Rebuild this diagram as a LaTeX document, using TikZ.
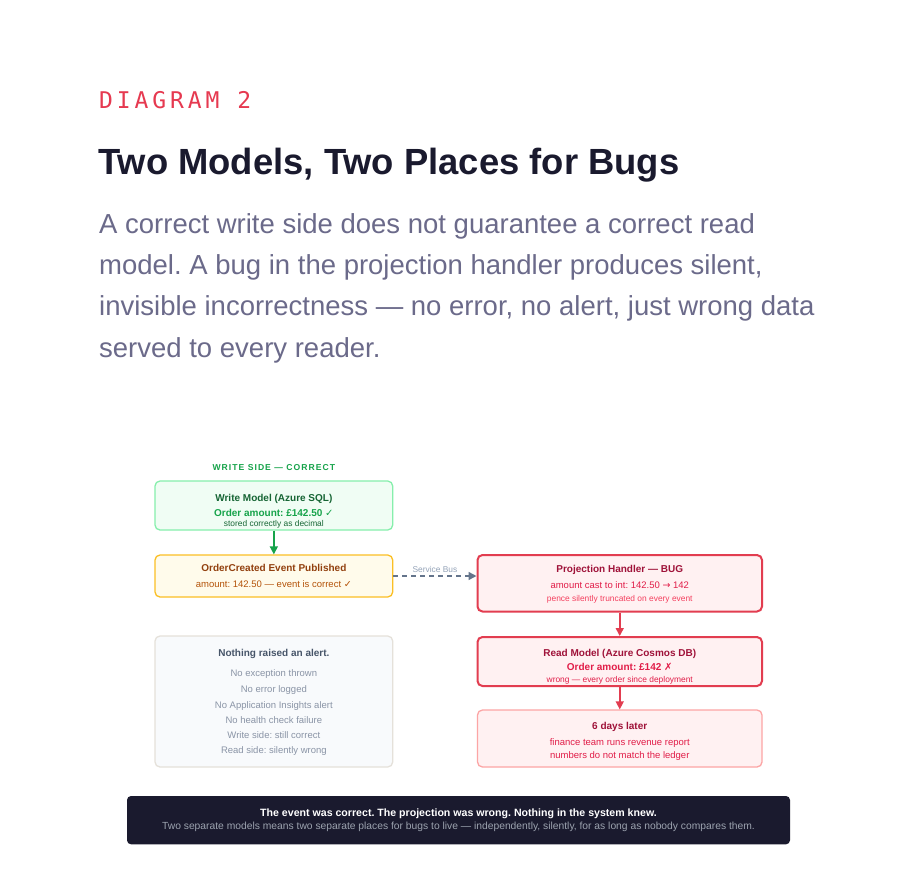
\documentclass[tikz,border=0pt]{standalone}
\usepackage{fontspec}
\setmainfont{Liberation Sans}
\newfontfamily\labelmono{DejaVu Sans Mono}[LetterSpace=17]
\newfontfamily\symfont{DejaVu Sans}
\usetikzlibrary{arrows.meta}
\newcommand\fsz[1]{\fontsize{#1}{#1}\selectfont}
\frenchspacing
\definecolor{ink}{HTML}{1A1A2E}
\definecolor{lede}{HTML}{6B6A8A}
\definecolor{accent}{HTML}{E63950}
\definecolor{okfill}{HTML}{F0FDF4}
\definecolor{okline}{HTML}{86EFAC}
\definecolor{okdark}{HTML}{166534}
\definecolor{okmid}{HTML}{16A34A}
\definecolor{evfill}{HTML}{FFFBEB}
\definecolor{evline}{HTML}{FBBF24}
\definecolor{evdark}{HTML}{92400E}
\definecolor{evmid}{HTML}{B45309}
\definecolor{bugfill}{HTML}{FFF1F2}
\definecolor{bugline}{HTML}{E23D50}
\definecolor{bugdark}{HTML}{9F1239}
\definecolor{bugmid}{HTML}{E11D48}
\definecolor{buglight}{HTML}{F43F5E}
\definecolor{laterline}{HTML}{FCA5A5}
\definecolor{quietfill}{HTML}{F8FAFC}
\definecolor{quietline}{HTML}{E5E1DA}
\definecolor{quietdark}{HTML}{475569}
\definecolor{quietmid}{HTML}{8A94A6}
\definecolor{busline}{HTML}{64748B}
\definecolor{buslabel}{HTML}{94A3B8}
\definecolor{footgray}{HTML}{9CA3AF}

\begin{document}
\begin{tikzpicture}[x=1pt,y=-1pt,
    box/.style={draw, rounded corners=5pt, line width=1.3pt, inner sep=0pt, minimum width=237.7pt},
    bugbox/.style={box, fill=bugfill, draw=bugline, line width=2pt, minimum width=284.5pt},
    txt/.style={anchor=base, inner sep=0pt},
    ttl/.style={txt, font=\bfseries\fsz{10}},
    sub/.style={txt, font=\fsz{9.5}},
    tiny/.style={txt, font=\fsz{8.4}},
    tip/.style={-{Triangle[length=8pt,width=8pt]}, line width=1.5pt}]
  \useasboundingbox[fill=white] (0,0) rectangle (898,879);
  % heading
  \node[txt, anchor=base west, text=accent, font=\labelmono\fsz{23}] (kicker) at (99,108) {DIAGRAM 2};
  \node[txt, anchor=base west, text=ink, font=\bfseries\fsz{36.4}] (title) at (98,174) {Two Models, Two Places for Bugs};
  \node[txt, anchor=base west, text=lede, font=\fsz{27.5}] (lede1) at (99,233) {A correct write side does not guarantee a correct read};
  \node[txt, anchor=base west, text=lede, font=\fsz{27.5}] (lede2) at (99,274) {model. A bug in the projection handler produces silent,};
  \node[txt, anchor=base west, text=lede, font=\fsz{27.5}] (lede3) at (99,315.5) {invisible incorrectness — no error, no alert, just wrong data};
  \node[txt, anchor=base west, text=lede, font=\fsz{27.5}] (lede4) at (99,357) {served to every reader.};

  % write side
  \node[txt, text=okmid, font=\bfseries\fsz{8.6}\addfontfeature{LetterSpace=12}] (side) at (273.85,470) {WRITE SIDE — CORRECT};
  \node[box, fill=okfill, draw=okline, minimum height=49pt] (write) at (273.85,505.5) {};
  \node[ttl, text=okdark] (writettl) at (273.85,501.7) {Write Model (Azure SQL)};
  \node[ttl, text=okmid] (writeamt) at (273.85,516) {Order amount: £142.50 {\symfont\mdseries ✓}};
  \node[tiny, text=okdark] (writenote) at (273.85,526.3) {stored correctly as decimal};

  \node[box, fill=evfill, draw=evline, minimum height=42pt] (event) at (273.85,576) {};
  \node[ttl, text=evdark] (eventttl) at (273.85,571.7) {OrderCreated Event Published};
  \node[sub, text=evmid] (eventamt) at (273.85,587.3) {amount: 142.50 — event is correct {\symfont ✓}};

  % read side
  \node[bugbox, minimum height=56.5pt] (proj) at (619.75,583.25) {};
  \node[ttl, text=bugdark] (projttl) at (619.75,572.7) {Projection Handler — BUG};
  \node[sub, text=bugmid] (projcast) at (619.75,588.3) {amount cast to int: 142.50 {\symfont →} 142};
  \node[tiny, text=buglight] (projnote) at (619.75,601.7) {pence silently truncated on every event};

  \node[bugbox, minimum height=49pt] (read) at (619.75,661.5) {};
  \node[ttl, text=bugdark] (readttl) at (619.75,656) {Read Model (Azure Cosmos DB)};
  \node[ttl, text=bugmid] (readamt) at (619.75,670.7) {Order amount: £142 {\symfont\mdseries ✗}};
  \node[tiny, text=bugmid] (readnote) at (619.75,682) {wrong — every order since deployment};

  \node[box, fill=bugfill, draw=laterline, minimum width=284.5pt, minimum height=57pt] (later) at (619.75,738.5) {};
  \node[ttl, text=bugdark] (laterttl) at (619.75,729.3) {6 days later};
  \node[sub, text=bugmid] (later1) at (619.75,745.7) {finance team runs revenue report};
  \node[sub, text=bugmid] (later2) at (619.75,758.3) {numbers do not match the ledger};

  % nobody noticed
  \node[box, fill=quietfill, draw=quietline, minimum height=131pt] (quiet) at (273.85,701.5) {};
  \node[ttl, text=quietdark] (quietttl) at (273.85,656.7) {Nothing raised an alert.};
  \foreach \y/\t [count=\i] in {676.7/No exception thrown, 692.7/No error logged,
      708.3/No Application Insights alert, 723.3/No health check failure,
      738.7/Write side: still correct, 753.3/Read side: silently wrong}
    \node[sub, text=quietmid] (quiet\i) at (273.85,\y) {\t};

  % connectors
  \draw[tip, okmid] (write) -- (event);
  \draw[tip, busline, dashed, dash pattern=on 5pt off 4pt] (event.east) -- (event.east -| proj.west)
    node[midway, above=3pt, text=buslabel, font=\fsz{8.4}, inner sep=0pt] (bus) {Service Bus};
  \draw[tip, bugline] (proj) -- (read);
  \draw[tip, bugline] (read) -- (later);

  % takeaway
  \node[fill=ink, rounded corners=4pt, minimum width=663pt, minimum height=48.3pt, inner sep=0pt] (verdict) at (458.5,820.15) {};
  \node[txt, text=white, font=\bfseries\fsz{10.6}] (verdict1) at (458.5,816.7) {The event was correct. The projection was wrong. Nothing in the system knew.};
  \node[txt, text=footgray, font=\fsz{10.3}] (verdict2) at (458.5,829.8) {Two separate models means two separate places for bugs to live — independently, silently, for as long as nobody compares them.};
\end{tikzpicture}
\end{document}
